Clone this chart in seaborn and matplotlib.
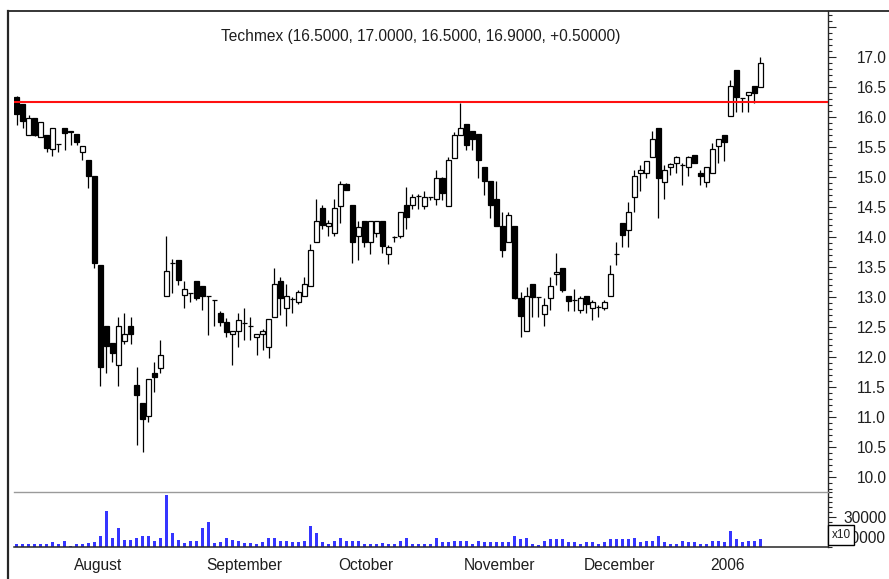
import numpy as np
import pandas as pd
import matplotlib
matplotlib.use('Agg')
import matplotlib.pyplot as plt
import seaborn as sns
from matplotlib.ticker import MultipleLocator

# daily OHLC, Techmex, 19 Jul 2005 - 13 Jan 2006
open_ = [16.33, 16.22, 15.70, 15.98, 15.67, 15.70, 15.46, 15.55, 15.81, 15.76,
         15.71, 15.42, 15.28, 15.02, 13.54, 12.52, 12.23, 11.87, 12.27, 12.52,
         11.53, 11.24, 11.02, 11.74, 11.81, 13.02, 13.56, 13.62, 13.03, 13.06,
         13.27, 13.19, 13.02, 12.95, 12.74, 12.59, 12.38, 12.44, 12.56, 12.51,
         12.33, 12.38, 12.16, 12.67, 13.27, 12.81, 12.96, 12.91, 13.02, 13.18,
         13.91, 14.48, 14.18, 14.07, 14.52, 14.88, 14.53, 14.02, 14.26, 13.91,
         14.06, 14.26, 13.72, 14.00, 14.02, 14.53, 14.53, 14.68, 14.52, 14.66,
         14.64, 14.98, 14.52, 15.32, 15.70, 15.88, 15.76, 15.71, 15.17, 14.94,
         14.64, 14.18, 13.91, 14.18, 12.98, 12.44, 13.21, 13.00, 12.72, 12.98,
         13.38, 13.48, 13.02, 12.95, 12.78, 13.02, 12.81, 12.84, 12.81, 13.02,
         13.71, 14.24, 14.12, 14.66, 15.06, 15.06, 15.33, 15.81, 14.92, 15.17,
         15.23, 15.20, 15.17, 15.37, 15.06, 14.92, 15.06, 15.51, 15.70, 16.02,
         16.78, 16.31, 16.37, 16.51, 16.50]
high = [16.35, 16.22, 16.03, 15.98, 15.92, 15.70, 15.81, 15.55, 15.81, 15.76,
        15.71, 15.52, 15.28, 15.02, 13.54, 12.52, 12.23, 12.67, 12.73, 12.67,
        11.83, 11.24, 11.63, 11.92, 12.28, 14.02, 13.64, 13.62, 13.26, 13.06,
        13.27, 13.19, 13.02, 12.95, 12.76, 12.65, 12.44, 12.73, 12.81, 12.67,
        12.38, 12.46, 12.63, 13.48, 13.33, 13.21, 13.00, 13.12, 13.33, 13.88,
        14.64, 14.53, 14.28, 14.64, 14.93, 14.90, 14.53, 14.26, 14.26, 14.26,
        14.26, 14.26, 13.87, 14.02, 14.42, 14.83, 14.72, 14.72, 14.77, 14.66,
        15.12, 15.00, 15.34, 15.75, 16.23, 15.88, 15.76, 15.71, 15.17, 14.94,
        14.94, 14.42, 14.42, 14.18, 13.09, 13.17, 13.21, 13.00, 12.98, 13.33,
        13.73, 13.48, 13.02, 13.13, 13.02, 13.02, 12.95, 12.87, 12.95, 13.54,
        13.91, 14.24, 14.59, 15.12, 15.20, 15.27, 15.76, 15.81, 15.20, 15.23,
        15.35, 15.23, 15.35, 15.37, 15.12, 15.17, 15.56, 15.64, 15.70, 16.61,
        16.78, 16.31, 16.42, 16.51, 17.00]
low = [15.87, 15.81, 15.70, 15.68, 15.67, 15.42, 15.35, 15.42, 15.45, 15.53,
       15.53, 15.28, 14.81, 13.48, 11.52, 11.73, 11.92, 11.52, 12.22, 12.22,
       10.53, 10.42, 10.92, 11.42, 11.73, 13.02, 13.06, 13.20, 12.81, 12.92,
       12.95, 12.79, 12.37, 12.51, 12.51, 12.34, 11.87, 12.17, 12.28, 12.28,
       12.03, 12.12, 11.98, 12.67, 12.70, 12.52, 12.73, 12.89, 13.02, 13.18,
       13.91, 14.13, 14.02, 14.02, 14.23, 14.78, 13.56, 13.61, 13.83, 13.72,
       14.00, 13.73, 13.55, 13.91, 13.98, 14.13, 14.46, 14.46, 14.46, 14.62,
       14.53, 14.62, 14.52, 15.32, 15.70, 15.45, 15.45, 14.99, 14.70, 14.31,
       14.18, 13.67, 13.91, 12.96, 12.33, 12.44, 12.67, 12.67, 12.51, 12.78,
       13.20, 13.09, 12.77, 12.77, 12.73, 12.74, 12.62, 12.67, 12.78, 13.02,
       13.53, 13.83, 13.83, 14.42, 14.76, 14.98, 15.33, 14.31, 14.64, 15.03,
       15.06, 14.87, 15.01, 15.23, 14.87, 14.84, 15.06, 15.23, 15.27, 16.02,
       16.09, 16.09, 16.09, 16.23, 16.50]
close = [16.05, 15.94, 15.98, 15.70, 15.92, 15.48, 15.81, 15.55, 15.73, 15.75,
         15.59, 15.52, 15.02, 13.57, 11.84, 12.19, 12.06, 12.52, 12.38, 12.39,
         11.37, 10.96, 11.63, 11.66, 12.03, 13.43, 13.56, 13.28, 13.13, 13.06,
         12.99, 13.02, 13.01, 12.95, 12.59, 12.41, 12.44, 12.62, 12.56, 12.51,
         12.38, 12.43, 12.63, 13.21, 12.99, 13.02, 12.96, 13.08, 13.21, 13.78,
         14.26, 14.20, 14.24, 14.48, 14.88, 14.78, 13.92, 14.16, 13.92, 14.26,
         14.26, 13.85, 13.83, 14.00, 14.42, 14.34, 14.66, 14.68, 14.66, 14.66,
         14.98, 14.74, 15.28, 15.70, 15.81, 15.53, 15.63, 15.29, 14.94, 14.53,
         14.18, 13.79, 14.37, 12.98, 12.68, 13.02, 13.00, 13.00, 12.87, 13.18,
         13.42, 13.11, 12.94, 12.95, 12.98, 12.89, 12.91, 12.84, 12.92, 13.38,
         13.71, 14.03, 14.42, 15.01, 15.12, 15.27, 15.63, 14.99, 15.12, 15.22,
         15.33, 15.20, 15.34, 15.23, 15.02, 15.17, 15.46, 15.63, 15.59, 16.51,
         16.34, 16.31, 16.42, 16.40, 16.90]
volume = [2700, 2700, 2700, 2700, 3300, 2700, 4700, 2700, 6000, 1300,
          2700, 2700, 4000, 5300, 10700, 36000, 8700, 18700, 7300, 7300,
          9300, 10700, 10700, 6000, 8700, 52300, 14000, 7300, 4000, 6000,
          6000, 18700, 25000, 4000, 4700, 8700, 7300, 6000, 4000, 4000,
          2700, 4700, 8700, 8700, 6000, 6000, 4700, 4700, 6000, 20700,
          14000, 4700, 3300, 6000, 8700, 6000, 6000, 6000, 2700, 2700,
          2700, 4000, 2700, 2700, 6000, 9300, 2700, 2700, 2700, 2700,
          9300, 4700, 4700, 6000, 6000, 6000, 2700, 6000, 4700, 4700,
          4700, 4700, 4700, 11000, 8000, 9300, 2700, 2000, 6000, 8000,
          8000, 8000, 4700, 4700, 2700, 4700, 4700, 2700, 4700, 8000,
          8000, 8000, 8000, 9300, 4700, 6000, 6000, 11000, 4700, 2700,
          2700, 6000, 4700, 4700, 2700, 2700, 6000, 6000, 4700, 16000,
          8000, 4700, 6000, 6000, 8000]
resistance = 16.25
holidays = ['2005-08-16', '2005-11-02', '2005-11-11', '2005-12-26']
title = 'Techmex (16.5000, 17.0000, 16.5000, 16.9000, +0.50000)'

sns.set_style('white')
plt.rcParams['font.family'] = ['Liberation Sans', 'DejaVu Sans']
FS = 11.2
TXT = '#1e1e1e'

# trading calendar (runs past the data so the empty right part gets ticks too)
days = pd.bdate_range('2005-07-19', '2006-01-31').difference(pd.to_datetime(holidays))
pos = np.arange(len(days))
n = len(close)
x = np.arange(n)
xmax = n + 10.3

wk = days.isocalendar().week.values
new_month = np.r_[False, days.month[1:] != days.month[:-1]] & (pos < xmax)
new_week = np.r_[False, wk[1:] != wk[:-1]] & (pos < xmax)
month_pos = pos[new_month]
month_lab = [str(d.year) if d.month == 1 else d.strftime('%B') for d in days[new_month]]
week_pos = pos[new_week]

W, H = 889, 579
fig = plt.figure(figsize=(W / 100, H / 100), dpi=100)
L, R = 13.5, 828.3
ax = fig.add_axes([L / W, (H - 492) / H, (R - L) / W, (492 - 11) / H])
vx = fig.add_axes([L / W, (H - 547) / H, (R - L) / W, (547 - 492) / H])

# candles
o = np.array(open_); c = np.array(close)
up = c >= o
ax.vlines(x, low, high, color='black', lw=0.9, zorder=2)
ax.bar(x, np.abs(c - o), bottom=np.minimum(o, c), width=0.68,
       color=np.where(up, 'white', 'black'), edgecolor='black', linewidth=0.9, zorder=3)
ax.axhline(resistance, color='#ff1010', lw=1.5, zorder=4)
ax.text(0.5, 1 - 25 / 481, title, transform=ax.transAxes, ha='center', va='center',
        fontsize=FS, color=TXT)

for s in ['left', 'top', 'bottom']:
    ax.spines[s].set_visible(False)
ax.spines['right'].set_linewidth(1)
ax.yaxis.tick_right()
ticks = np.arange(10, 17.51, 0.5)
ax.set_yticks(ticks)
ax.set_yticklabels([f'{t:.1f}' if t <= 17 else '' for t in ticks])
ax.yaxis.set_minor_locator(MultipleLocator(0.1))
ax.tick_params(axis='y', which='major', direction='out', length=5.8, width=0.8,
               pad=15, labelsize=FS, labelcolor=TXT)
ax.tick_params(axis='y', which='minor', direction='out', length=2.9, width=0.8)
ax.tick_params(axis='x', which='both', bottom=False, labelbottom=False)
ax.set_xlim(-0.5, xmax)
ax.set_ylim(9.75, 17.767)

# volume
vol = pd.DataFrame({'pos': x, 'volume': volume})
sns.barplot(data=vol, x='pos', y='volume', native_scale=True, width=0.35,
            color='#3535ff', saturation=1, errorbar=None, linewidth=0, ax=vx)
vx.set_xlabel('')
vx.set_ylabel('')
vx.spines['left'].set_visible(False)
vx.spines['top'].set_color('#9a9a9a')
vx.spines['top'].set_linewidth(1)
vx.spines['bottom'].set_linewidth(1.1)
vx.spines['right'].set_linewidth(1)
vx.yaxis.tick_right()
vx.set_yticks([10000, 30000])
vx.set_yticklabels(['10000', '30000'])
vx.yaxis.set_minor_locator(MultipleLocator(5000))
vx.tick_params(axis='y', which='major', direction='out', length=5.8, width=0.8,
               pad=5, labelsize=FS, labelcolor=TXT)
vx.tick_params(axis='y', which='minor', direction='out', length=2.9, width=0.8)
vx.set_xticks(month_pos)
vx.set_xticks(week_pos, minor=True)
vx.tick_params(axis='x', which='major', direction='out', length=23, width=1.1,
               labelbottom=False)
vx.tick_params(axis='x', which='minor', direction='out', length=5.8, width=1.1)
vx.set_xlim(-0.5, xmax)
vx.set_ylim(0, 55000)
for p, lab in zip(month_pos, month_lab):
    vx.annotate(lab, xy=(p, 0), xycoords=('data', 'axes fraction'), xytext=(2.4, -13),
                textcoords='offset points', ha='left', va='center', fontsize=FS,
                color=TXT, annotation_clip=False)

fig.text(841 / W, (H - 535) / H, 'x10', ha='center', va='center', fontsize=8.5, color=TXT,
         bbox=dict(boxstyle='square,pad=0.3', fc='white', ec='black', lw=1))

# window frame
fr = fig.add_axes([7.5 / W, 0, 1 - 7.5 / W, (H - 11) / H], zorder=10)
fr.set_facecolor('none')
fr.set_xticks([]); fr.set_yticks([])
fr.spines['right'].set_visible(False)
fr.spines['bottom'].set_visible(False)
fr.spines['left'].set_linewidth(1.6)
fr.spines['top'].set_linewidth(1.3)

fig.savefig('out.png', dpi=100)
